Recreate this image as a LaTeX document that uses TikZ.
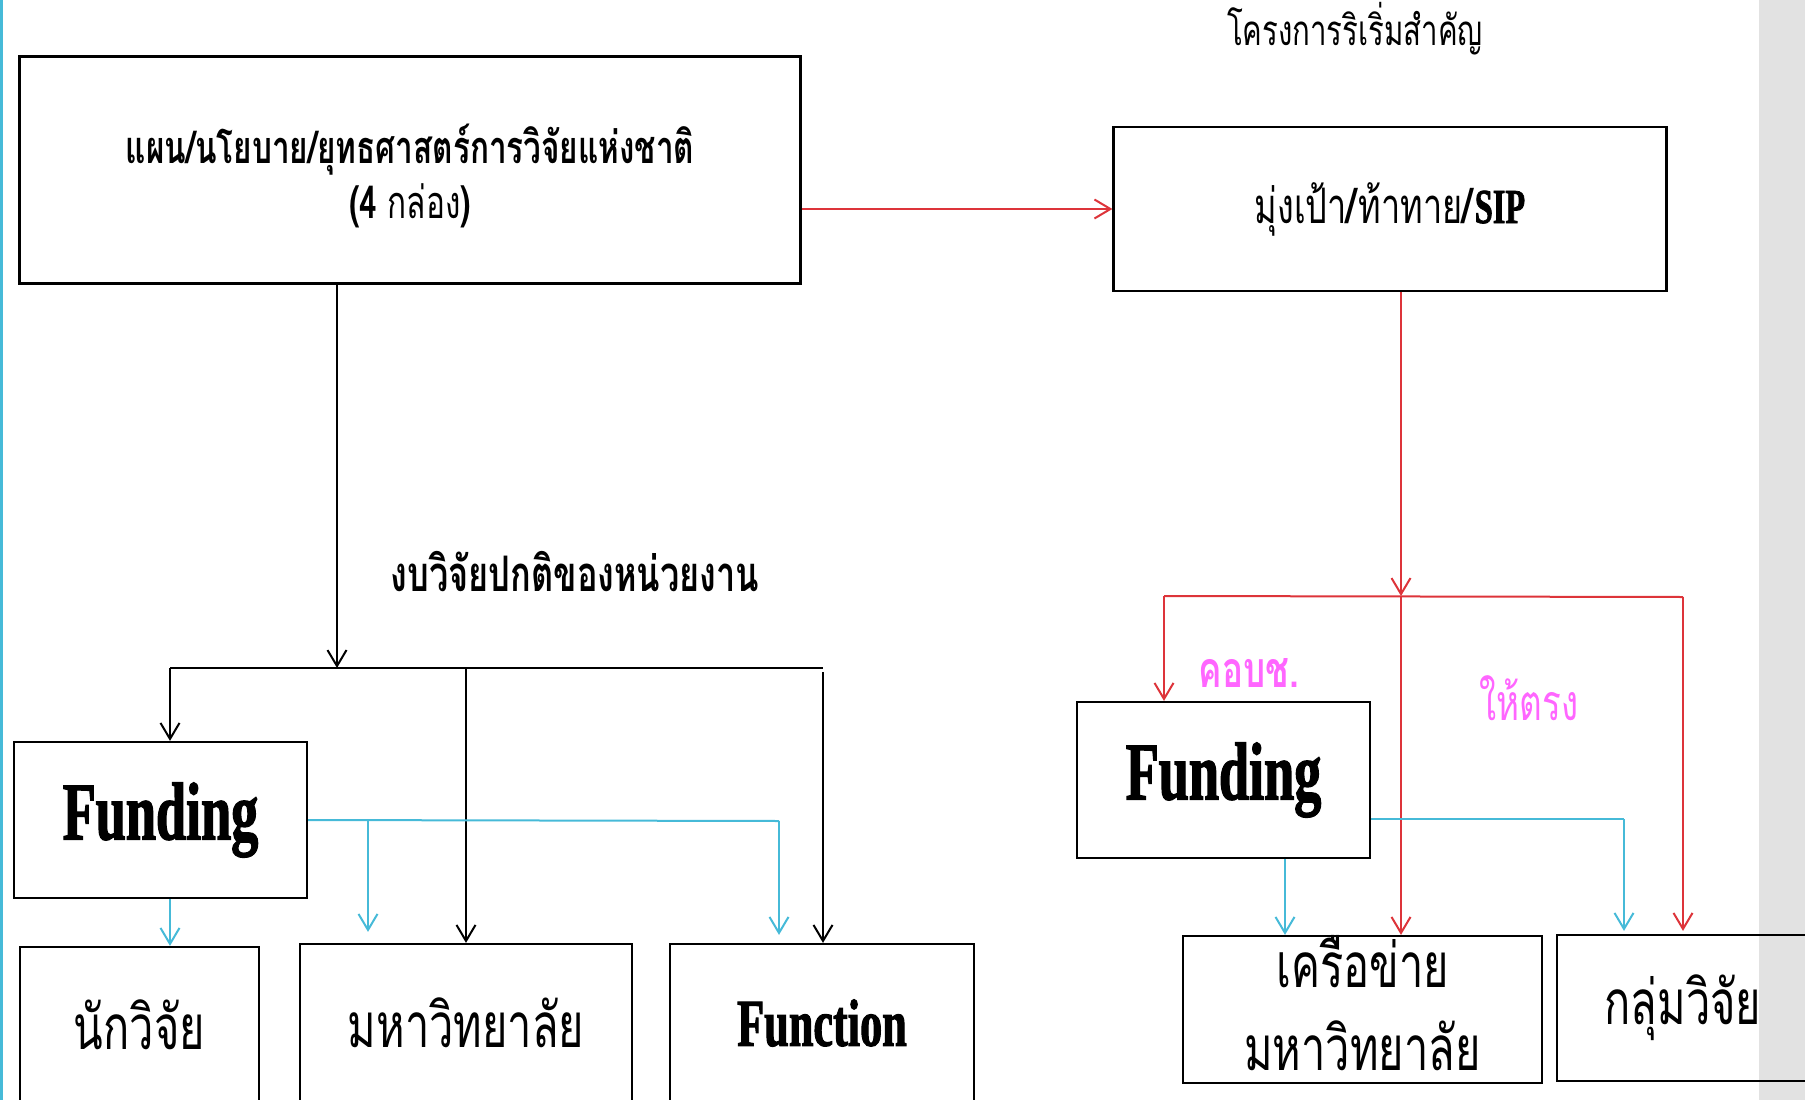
\documentclass[tikz,border=0pt]{standalone}
\usepackage{fontspec}
\usepackage{tikz}
\usetikzlibrary{arrows.meta,calc}
\newfontfamily\thaifont[Script=Thai,FakeStretch=0.7]{Loma}
\newfontfamily\fatfont[FakeStretch=0.66,FakeBold=1.5]{Liberation Serif}
\definecolor{redline}{RGB}{221,52,58}
\definecolor{cyanline}{RGB}{70,186,216}
\definecolor{pinktext}{RGB}{255,102,255}
\definecolor{sidegray}{RGB}{226,226,226}

\begin{document}
\begin{tikzpicture}[x=1pt,y=-1pt,
box/.style={draw,line width=2.2pt,inner sep=0pt,align=center,font=\thaifont\fontsize{62}{83}\selectfont},
ln/.style={line width=2pt},
tip/.style={ln,-{Straight Barb[length=16pt,width=19pt,line width=2pt]}},
blk/.style={tip,black},
rd/.style={ln,redline},
rda/.style={tip,redline},
cy/.style={ln,cyanline},
cya/.style={tip,cyanline}]
\clip (0,0) rectangle (1805,1100);
\fill[sidegray] (1759,0) rectangle (1805,1100);
\draw[cyanline,line width=3pt] (1.5,0) -- (1.5,1100);
\node[box,minimum width=781pt,minimum height=227pt] (plan) at (410,170) {};
\node[align=center,font=\thaifont\bfseries\fontsize{45}{55}\selectfont] (plantxt) at ([yshift=-6pt]plan.center) {แผน/นโยบาย/ยุทธศาสตร์การวิจัยแห่งชาติ\\(4 {\mdseries กล่อง})};
\node[box,minimum width=553pt,minimum height=164pt,font=\thaifont\fontsize{49}{55}\selectfont] (sip) at (1390,209) {มุ่งเป้า\textbf{/}ท้าทาย\textbf{/}{\fatfont\bfseries SIP}};
\node[font=\thaifont\fontsize{42}{44}\selectfont] (kp) at (1355,29) {โครงการริเริ่มสำคัญ};
\node[font=\thaifont\bfseries\fontsize{49}{52}\selectfont] (gb) at (575,572) {งบวิจัยปกติของหน่วยงาน};
\node[box,minimum width=293pt,minimum height=156pt,font=\fatfont\bfseries\fontsize{82}{82}\selectfont] (fund1) at (160.5,820) {Funding};
\node[box,minimum width=239pt,minimum height=155pt] (res) at (139.5,1024.5) {นักวิจัย};
\node[box,minimum width=332pt,minimum height=158pt] (uni) at (466,1023) {มหาวิทยาลัย};
\node[box,minimum width=304pt,minimum height=158pt,font=\fatfont\bfseries\fontsize{67}{67}\selectfont] (func) at (822,1023) {Function};
\node[box,minimum width=293pt,minimum height=156pt,font=\fatfont\bfseries\fontsize{82}{82}\selectfont] (fund2) at (1223.5,780) {Funding};
\node[box,minimum width=359pt,minimum height=147pt] (net) at (1362.5,1009.5) {};
\node[align=center,font=\thaifont\fontsize{62}{83}\selectfont] (nettxt) at ([yshift=6pt]net.center) {เครือข่าย\\มหาวิทยาลัย};
\node[box,minimum width=252pt,minimum height=146pt] (grp) at (1683,1008) {กลุ่มวิจัย};
\node[text=pinktext,font=\thaifont\bfseries\fontsize{50}{52}\selectfont] (kob) at (1249,673) {คอบช.};
\node[text=pinktext,font=\thaifont\fontsize{50}{52}\selectfont] (hai) at (1529,698) {ให้ตรง};
\draw[rda] (plan.east |- sip) -- (sip.west);
\coordinate (j1) at (337,668);
\coordinate (b1) at (170,668);
\coordinate (b2) at (466,668);
\coordinate (b3) at (823,668);
\draw[blk] (plan.south -| j1) -- (j1);
\draw[ln] (b1) -- (b3);
\draw[blk] (b1) -- (b1 |- fund1.north);
\draw[blk] (b2) -- (uni.north);
\draw[blk] ([yshift=-4pt]b3) -- (b3 |- func.north);
\coordinate (c1) at (368,820);
\coordinate (c2) at (779,821);
\draw[cy] (fund1.east) -- (c2);
\draw[cya,shorten >=11pt] (c1) -- (c1 |- uni.north);
\draw[cya,shorten >=8pt] (c2) -- (c2 |- func.north);
\draw[cya] (fund1.south -| b1) -- (b1 |- res.north);
\coordinate (j2) at (1401,596);
\coordinate (r1) at (1164,596);
\coordinate (r2) at (1683,597);
\draw[rda] (sip.south -| j2) -- (j2);
\draw[rd] (r1) -- (r2);
\draw[rda] (r1) -- (r1 |- fund2.north);
\draw[rda] (j2) -- (j2 |- net.north);
\draw[rda,shorten >=3pt] (r2) -- (grp.north);
\coordinate (c3) at (1624,819);
\coordinate (c4) at (1285,858);
\draw[cy] (fund2.east |- c3) -- (c3);
\draw[cya,shorten >=3pt] (c3) -- (c3 |- grp.north);
\draw[cya] (fund2.south -| c4) -- (c4 |- net.north);
\end{tikzpicture}
\end{document}
